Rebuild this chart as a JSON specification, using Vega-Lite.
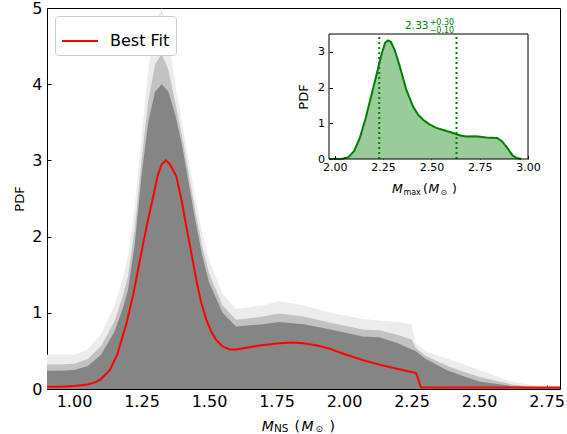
{
  "$schema": "https://vega.github.io/schema/vega-lite/v6.json",
  "width": 513,
  "height": 381,
  "autosize": "none",
  "padding": {"left": 47, "top": 8, "right": 7, "bottom": 45},
  "config": {
    "view": {"stroke": "black", "strokeWidth": 1},
    "font": "DejaVu Sans",
    "axis": {"labelColor": "black", "tickColor": "black", "domainColor": "black", "titleColor": "black", "titleFontWeight": "normal", "grid": false, "labelFont": "DejaVu Sans", "titleFont": "DejaVu Sans", "labelFlush": false, "labelOverlap": false, "tickWidth": 1},
    "text": {"font": "DejaVu Sans"}
  },
  "datasets": {
    "band": [
      {"x": 0.9, "core": 0.24, "mid": 0.32, "outer": 0.45},
      {"x": 0.95, "core": 0.24, "mid": 0.32, "outer": 0.45},
      {"x": 1.0, "core": 0.25, "mid": 0.33, "outer": 0.45},
      {"x": 1.05, "core": 0.3, "mid": 0.39, "outer": 0.52},
      {"x": 1.1, "core": 0.45, "mid": 0.56, "outer": 0.72},
      {"x": 1.15, "core": 0.75, "mid": 0.89, "outer": 1.1},
      {"x": 1.18, "core": 1.05, "mid": 1.21, "outer": 1.45},
      {"x": 1.2, "core": 1.3, "mid": 1.48, "outer": 1.75},
      {"x": 1.225, "core": 1.9, "mid": 2.1, "outer": 2.4},
      {"x": 1.25, "core": 2.8, "mid": 3.0, "outer": 3.3},
      {"x": 1.275, "core": 3.5, "mid": 3.78, "outer": 4.2},
      {"x": 1.3, "core": 3.9, "mid": 4.26, "outer": 4.8},
      {"x": 1.325, "core": 4.0, "mid": 4.4, "outer": 5.0},
      {"x": 1.35, "core": 3.9, "mid": 4.18, "outer": 4.6},
      {"x": 1.375, "core": 3.6, "mid": 3.76, "outer": 4.0},
      {"x": 1.4, "core": 3.2, "mid": 3.32, "outer": 3.5},
      {"x": 1.425, "core": 2.7, "mid": 2.82, "outer": 3.0},
      {"x": 1.45, "core": 2.2, "mid": 2.32, "outer": 2.5},
      {"x": 1.475, "core": 1.75, "mid": 1.87, "outer": 2.05},
      {"x": 1.5, "core": 1.4, "mid": 1.52, "outer": 1.7},
      {"x": 1.55, "core": 1.0, "mid": 1.1, "outer": 1.25},
      {"x": 1.6, "core": 0.82, "mid": 0.91, "outer": 1.05},
      {"x": 1.7, "core": 0.85, "mid": 0.95, "outer": 1.1},
      {"x": 1.76, "core": 0.88, "mid": 0.99, "outer": 1.15},
      {"x": 1.85, "core": 0.85, "mid": 0.95, "outer": 1.1},
      {"x": 1.95, "core": 0.78, "mid": 0.87, "outer": 1.0},
      {"x": 2.07, "core": 0.69, "mid": 0.78, "outer": 0.92},
      {"x": 2.13, "core": 0.68, "mid": 0.77, "outer": 0.9},
      {"x": 2.2, "core": 0.6, "mid": 0.71, "outer": 0.88},
      {"x": 2.25, "core": 0.52, "mid": 0.65, "outer": 0.85},
      {"x": 2.265, "core": 0.5, "mid": 0.54, "outer": 0.6},
      {"x": 2.3, "core": 0.4, "mid": 0.44, "outer": 0.5},
      {"x": 2.38, "core": 0.25, "mid": 0.31, "outer": 0.4},
      {"x": 2.44, "core": 0.17, "mid": 0.23, "outer": 0.33},
      {"x": 2.5, "core": 0.1, "mid": 0.16, "outer": 0.25},
      {"x": 2.62, "core": 0.04, "mid": 0.06, "outer": 0.1},
      {"x": 2.7, "core": 0.02, "mid": 0.03, "outer": 0.05},
      {"x": 2.8, "core": 0.01, "mid": 0.01, "outer": 0.02}
    ],
    "fit": [
      {"x": 0.9, "y": 0.03}, {"x": 0.95, "y": 0.03}, {"x": 1.0, "y": 0.04}, {"x": 1.05, "y": 0.06},
      {"x": 1.08, "y": 0.09}, {"x": 1.1, "y": 0.13}, {"x": 1.133, "y": 0.25}, {"x": 1.16, "y": 0.45},
      {"x": 1.195, "y": 0.87}, {"x": 1.22, "y": 1.25}, {"x": 1.244, "y": 1.69}, {"x": 1.27, "y": 2.15},
      {"x": 1.293, "y": 2.52}, {"x": 1.31, "y": 2.8}, {"x": 1.325, "y": 2.95}, {"x": 1.34, "y": 3.0},
      {"x": 1.355, "y": 2.95}, {"x": 1.379, "y": 2.79}, {"x": 1.4, "y": 2.45}, {"x": 1.416, "y": 2.13},
      {"x": 1.435, "y": 1.78}, {"x": 1.453, "y": 1.43}, {"x": 1.47, "y": 1.15}, {"x": 1.49, "y": 0.91},
      {"x": 1.51, "y": 0.74}, {"x": 1.527, "y": 0.64}, {"x": 1.55, "y": 0.56}, {"x": 1.577, "y": 0.52},
      {"x": 1.6, "y": 0.52}, {"x": 1.687, "y": 0.57}, {"x": 1.761, "y": 0.6}, {"x": 1.81, "y": 0.61},
      {"x": 1.85, "y": 0.6}, {"x": 1.9, "y": 0.57}, {"x": 1.946, "y": 0.53}, {"x": 2.0, "y": 0.46},
      {"x": 2.069, "y": 0.38}, {"x": 2.13, "y": 0.32}, {"x": 2.193, "y": 0.27}, {"x": 2.267, "y": 0.21},
      {"x": 2.285, "y": 0.02}, {"x": 2.8, "y": 0.02}
    ],
    "kde": [
      {"m": 1.97, "p": 0.0}, {"m": 2.04, "p": 0.01}, {"m": 2.07, "p": 0.05}, {"m": 2.1, "p": 0.22},
      {"m": 2.13, "p": 0.6}, {"m": 2.16, "p": 1.15}, {"m": 2.19, "p": 1.8}, {"m": 2.22, "p": 2.45},
      {"m": 2.24, "p": 2.9}, {"m": 2.26, "p": 3.25}, {"m": 2.275, "p": 3.32}, {"m": 2.29, "p": 3.28},
      {"m": 2.31, "p": 3.05}, {"m": 2.336, "p": 2.6}, {"m": 2.37, "p": 1.94}, {"m": 2.405, "p": 1.47},
      {"m": 2.43, "p": 1.25}, {"m": 2.457, "p": 1.1}, {"m": 2.49, "p": 0.97}, {"m": 2.526, "p": 0.87},
      {"m": 2.57, "p": 0.8}, {"m": 2.612, "p": 0.73}, {"m": 2.65, "p": 0.66}, {"m": 2.68, "p": 0.63},
      {"m": 2.73, "p": 0.64}, {"m": 2.784, "p": 0.6}, {"m": 2.84, "p": 0.59}, {"m": 2.865, "p": 0.5},
      {"m": 2.89, "p": 0.33}, {"m": 2.92, "p": 0.1}, {"m": 2.94, "p": 0.03}, {"m": 2.965, "p": 0.0}
    ],
    "ci": [{"v": 2.23}, {"v": 2.63}],
    "one": [{}]
  },
  "layer": [
    {
      "layer": [
        {
          "data": {"name": "band"},
          "mark": {"type": "area", "color": "#ececec"},
          "encoding": {
            "x": {"field": "x", "type": "quantitative", "scale": {"domain": [0.9, 2.8], "nice": false, "zero": false},
              "axis": {"title": null, "values": [1, 1.25, 1.5, 1.75, 2, 2.25, 2.5, 2.75], "format": ".2f", "labelFontSize": 16, "tickSize": -4, "labelPadding": 8, "domain": false}},
            "y": {"field": "outer", "type": "quantitative", "scale": {"domain": [0, 5], "nice": false},
              "axis": {"title": "PDF", "titleFontSize": 13, "titlePadding": 5, "values": [0, 1, 2, 3, 4, 5], "format": "d", "labelFontSize": 16, "tickSize": -4, "labelPadding": 9, "domain": false}}
          }
        },
        {
          "data": {"name": "band"},
          "mark": {"type": "area", "color": "#c2c2c2"},
          "encoding": {
            "x": {"field": "x", "type": "quantitative"},
            "y": {"field": "mid", "type": "quantitative"}
          }
        },
        {
          "data": {"name": "band"},
          "mark": {"type": "area", "color": "#858585"},
          "encoding": {
            "x": {"field": "x", "type": "quantitative"},
            "y": {"field": "core", "type": "quantitative"}
          }
        },
        {
          "data": {"name": "fit"},
          "mark": {"type": "line", "strokeWidth": 2},
          "encoding": {
            "x": {"field": "x", "type": "quantitative"},
            "y": {"field": "y", "type": "quantitative"},
            "color": {"datum": "Best Fit", "type": "nominal", "scale": {"range": ["#ff0000"]},
              "legend": {"title": null, "orient": "top-left", "offset": 8, "symbolType": "stroke", "symbolSize": 256, "symbolStrokeWidth": 2, "labelFontSize": 16, "labelFont": "DejaVu Sans", "labelColor": "black", "labelOffset": 11, "padding": 6, "strokeColor": "#cccccc", "fillColor": "white", "cornerRadius": 3,
                "encode": {"symbols": {"update": {"size": {"value": 1296}, "x": {"value": 19}}}}}}
          }
        },
        {"data": {"name": "one"}, "mark": {"type": "text", "text": "M", "fontStyle": "italic", "fontSize": 14, "align": "left", "baseline": "alphabetic", "color": "black"},
          "encoding": {"x": {"datum": 1.695}, "y": {"datum": -0.547}}},
        {"data": {"name": "one"}, "mark": {"type": "text", "text": "NS", "fontSize": 10.5, "align": "left", "baseline": "alphabetic", "color": "black"},
          "encoding": {"x": {"datum": 1.7407}, "y": {"datum": -0.558}}},
        {"data": {"name": "one"}, "mark": {"type": "text", "text": "(", "fontSize": 14, "align": "left", "baseline": "alphabetic", "color": "black"},
          "encoding": {"x": {"datum": 1.8167}, "y": {"datum": -0.547}}},
        {"data": {"name": "one"}, "mark": {"type": "text", "text": "M", "fontStyle": "italic", "fontSize": 14, "align": "left", "baseline": "alphabetic", "color": "black"},
          "encoding": {"x": {"datum": 1.8426}, "y": {"datum": -0.547}}},
        {"data": {"name": "one"}, "mark": {"type": "text", "text": "⊙", "fontSize": 9, "align": "left", "baseline": "alphabetic", "color": "black"},
          "encoding": {"x": {"datum": 1.8944}, "y": {"datum": -0.564}}},
        {"data": {"name": "one"}, "mark": {"type": "text", "text": ")", "fontSize": 14, "align": "left", "baseline": "alphabetic", "color": "black"},
          "encoding": {"x": {"datum": 1.946}, "y": {"datum": -0.547}}}
      ]
    },
    {
      "layer": [
        {
          "data": {"name": "kde"},
          "mark": {"type": "area", "color": "#99cc99"},
          "encoding": {
            "x": {"field": "m", "type": "quantitative", "scale": {"domain": [1.97, 3.0], "range": [282, 481], "nice": false, "zero": false},
              "axis": {"orient": "bottom", "offset": -230, "title": null, "values": [2, 2.25, 2.5, 2.75, 3], "format": ".2f", "labelFontSize": 11, "tickSize": -3.5, "labelPadding": 6, "domain": false}},
            "y": {"field": "p", "type": "quantitative", "scale": {"domain": [0, 3.5], "range": [151, 26], "nice": false},
              "axis": {"orient": "left", "offset": -282, "title": "PDF", "titleFontSize": 13, "titlePadding": 7, "values": [0, 1, 2, 3], "format": "d", "labelFontSize": 11, "tickSize": -3.5, "labelPadding": 8, "domain": false}}
          }
        },
        {
          "data": {"name": "kde"},
          "mark": {"type": "line", "color": "#008000", "strokeWidth": 2},
          "encoding": {
            "x": {"field": "m", "type": "quantitative"},
            "y": {"field": "p", "type": "quantitative"}
          }
        },
        {
          "data": {"name": "ci"},
          "mark": {"type": "rule", "color": "#008000", "strokeWidth": 2, "strokeDash": [2, 3]},
          "encoding": {"x": {"field": "v", "type": "quantitative"}, "y": {"datum": 0}, "y2": {"datum": 3.5}}
        },
        {
          "data": {"name": "one"},
          "mark": {"type": "rect", "fill": null, "fillOpacity": 0, "stroke": "black", "strokeWidth": 1},
          "encoding": {"x": {"datum": 1.97}, "x2": {"datum": 3.0}, "y": {"datum": 0}, "y2": {"datum": 3.5}}
        },
        {"data": {"name": "one"}, "mark": {"type": "text", "text": "2.33", "fontSize": 10.5, "align": "right", "baseline": "alphabetic", "color": "#008000"},
          "encoding": {"x": {"datum": 2.485}, "y": {"datum": 3.63}}},
        {"data": {"name": "one"}, "mark": {"type": "text", "text": "+0.30", "fontSize": 8, "align": "left", "baseline": "alphabetic", "color": "#008000"},
          "encoding": {"x": {"datum": 2.491}, "y": {"datum": 3.75}}},
        {"data": {"name": "one"}, "mark": {"type": "text", "text": "−0.10", "fontSize": 8, "align": "left", "baseline": "alphabetic", "color": "#008000"},
          "encoding": {"x": {"datum": 2.491}, "y": {"datum": 3.53}}},
        {"data": {"name": "one"}, "mark": {"type": "text", "text": "M", "fontStyle": "italic", "fontSize": 12.5, "align": "left", "baseline": "alphabetic", "color": "black"},
          "encoding": {"x": {"datum": 2.296}, "y": {"datum": -0.944}}},
        {"data": {"name": "one"}, "mark": {"type": "text", "text": "max", "fontSize": 8, "align": "left", "baseline": "alphabetic", "color": "black"},
          "encoding": {"x": {"datum": 2.355}, "y": {"datum": -1.0}}},
        {"data": {"name": "one"}, "mark": {"type": "text", "text": "(", "fontSize": 12.5, "align": "left", "baseline": "alphabetic", "color": "black"},
          "encoding": {"x": {"datum": 2.4565}, "y": {"datum": -0.944}}},
        {"data": {"name": "one"}, "mark": {"type": "text", "text": "M", "fontStyle": "italic", "fontSize": 12.5, "align": "left", "baseline": "alphabetic", "color": "black"},
          "encoding": {"x": {"datum": 2.485}, "y": {"datum": -0.944}}},
        {"data": {"name": "one"}, "mark": {"type": "text", "text": "⊙", "fontSize": 8, "align": "left", "baseline": "alphabetic", "color": "black"},
          "encoding": {"x": {"datum": 2.547}, "y": {"datum": -1.0}}},
        {"data": {"name": "one"}, "mark": {"type": "text", "text": ")", "fontSize": 12.5, "align": "left", "baseline": "alphabetic", "color": "black"},
          "encoding": {"x": {"datum": 2.6066}, "y": {"datum": -0.944}}}
      ]
    }
  ],
  "resolve": {"scale": {"x": "independent", "y": "independent", "color": "independent"}, "axis": {"x": "independent", "y": "independent"}}
}
